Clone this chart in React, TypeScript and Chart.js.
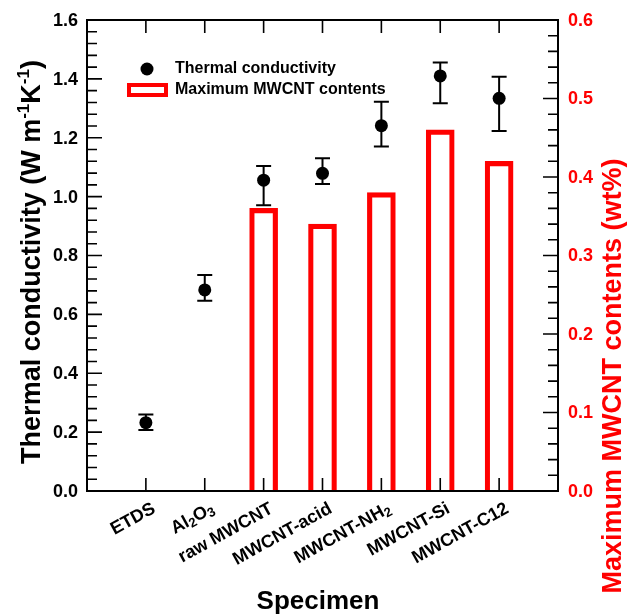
import React, { useEffect, useRef } from 'react';
import { Chart, registerables } from 'chart.js';

Chart.register(...registerables);

// ---------- data ----------
const categories = ['ETDS', 'Al₂O₃', 'raw MWCNT', 'MWCNT-acid', 'MWCNT-NH₂', 'MWCNT-Si', 'MWCNT-C12'];
const conductivity = [0.232, 0.683, 1.056, 1.079, 1.241, 1.41, 1.334];
const conductivityLow = [0.207, 0.646, 0.971, 1.043, 1.17, 1.317, 1.223];
const conductivityHigh = [0.26, 0.734, 1.104, 1.13, 1.322, 1.456, 1.407];
const mwcntContent: (number | null)[] = [null, null, 0.36, 0.34, 0.38, 0.46, 0.42];

const leftTitle = 'Thermal conductivity (W m⁻¹K⁻¹)';
const rightTitle = 'Maximum MWCNT contents (wt%)';
const bottomTitle = 'Specimen';
const legendLabels = ['Thermal conductivity', 'Maximum MWCNT contents'];

const FONT = '"Liberation Sans", Arial, Helvetica, sans-serif';
const RED = '#ff0000';

const SUB: Record<string, string> = { '₀': '0', '₁': '1', '₂': '2', '₃': '3', '₄': '4' };
const SUP: Record<string, string> = { '⁻': '-', '¹': '1' };

type Seg = { kind: 'n' | 'sub' | 'sup'; text: string; w: number };

function segments(text: string): Seg[] {
  const out: Seg[] = [];
  for (const ch of Array.from(text)) {
    let kind: Seg['kind'] = 'n';
    let c = ch;
    if (SUB[ch]) { kind = 'sub'; c = SUB[ch]; }
    else if (SUP[ch]) { kind = 'sup'; c = SUP[ch]; }
    const last = out[out.length - 1];
    if (last && last.kind === kind) last.text += c;
    else out.push({ kind, text: c, w: 0 });
  }
  return out;
}

function drawRich(ctx: CanvasRenderingContext2D, text: string, x: number, y: number, size: number,
  align: 'left' | 'center' | 'right', color: string) {
  const segs = segments(text);
  const subSize = Math.round(size * 0.72);
  const supSize = Math.round(size * 0.62);
  const fontFor = (k: Seg['kind']) => `bold ${k === 'n' ? size : k === 'sub' ? subSize : supSize}px ${FONT}`;
  let total = 0;
  for (const s of segs) { ctx.font = fontFor(s.kind); s.w = ctx.measureText(s.text).width; total += s.w; }
  let cx = align === 'left' ? x : align === 'center' ? x - total / 2 : x - total;
  ctx.fillStyle = color;
  ctx.textAlign = 'left';
  ctx.textBaseline = 'alphabetic';
  for (const s of segs) {
    ctx.font = fontFor(s.kind);
    const dy = s.kind === 'sub' ? size * 0.15 : s.kind === 'sup' ? -size * 0.4 : 0;
    ctx.fillText(s.text, cx, y + dy);
    cx += s.w;
  }
}

const errorBarPlugin = {
  id: 'errorBars',
  afterDatasetsDraw(chart: any) {
    const { ctx } = chart;
    const xs = chart.scales.x;
    const ys = chart.scales.y;
    ctx.save();
    ctx.strokeStyle = '#000';
    ctx.lineWidth = 2;
    conductivity.forEach((_v, i) => {
      const px = xs.getPixelForValue(i + 1);
      const top = ys.getPixelForValue(conductivityHigh[i]);
      const bot = ys.getPixelForValue(conductivityLow[i]);
      ctx.beginPath();
      ctx.moveTo(px, top); ctx.lineTo(px, bot);
      ctx.moveTo(px - 7.5, top); ctx.lineTo(px + 7.5, top);
      ctx.moveTo(px - 7.5, bot); ctx.lineTo(px + 7.5, bot);
      ctx.stroke();
    });
    ctx.restore();
  },
};

const axesPlugin = {
  id: 'axesFrame',
  afterDraw(chart: any) {
    const { ctx, chartArea } = chart;
    const { left, right, top, bottom } = chartArea;
    const xs = chart.scales.x;
    const ys = chart.scales.y;
    const ys2 = chart.scales.y2;
    ctx.save();
    // frame
    ctx.strokeStyle = '#000';
    ctx.lineWidth = 2;
    ctx.strokeRect(left, top, right - left, bottom - top);

    // left ticks (inward)
    ctx.lineWidth = 1.6;
    ctx.beginPath();
    for (let k = 0; k <= 40; k++) {
      const py = ys.getPixelForValue(k * 0.04);
      const len = k % 5 === 0 ? 15 : 10;
      ctx.moveTo(left, py); ctx.lineTo(left + len, py);
    }
    // right ticks (inward)
    for (let k = 0; k <= 30; k++) {
      const py = ys2.getPixelForValue(k * 0.02);
      const len = k % 5 === 0 ? 15 : 10;
      ctx.moveTo(right, py); ctx.lineTo(right - len, py);
    }
    // category ticks top & bottom
    categories.forEach((_c, i) => {
      const px = xs.getPixelForValue(i + 1);
      ctx.moveTo(px, bottom); ctx.lineTo(px, bottom - 13);
      ctx.moveTo(px, top); ctx.lineTo(px, top + 13);
    });
    ctx.stroke();

    // left tick labels
    ctx.font = `bold 18px ${FONT}`;
    ctx.textBaseline = 'middle';
    ctx.textAlign = 'right';
    ctx.fillStyle = '#000';
    ys.ticks.forEach((t: any) => {
      ctx.fillText(Number(t.value).toFixed(1), left - 9, ys.getPixelForValue(t.value) + 1);
    });
    // right tick labels
    ctx.textAlign = 'left';
    ctx.fillStyle = RED;
    ys2.ticks.forEach((t: any) => {
      ctx.fillText(Number(t.value).toFixed(1), right + 10, ys2.getPixelForValue(t.value) + 1);
    });

    // category labels (rotated)
    categories.forEach((c, i) => {
      const px = xs.getPixelForValue(i + 1);
      ctx.save();
      ctx.translate(px + 4, bottom + 9);
      ctx.rotate(-29 * Math.PI / 180);
      drawRich(ctx, c, 0, 13.5, 18, 'right', '#000');
      ctx.restore();
    });

    // axis titles
    ctx.save();
    ctx.translate(40, 262);
    ctx.rotate(-Math.PI / 2);
    drawRich(ctx, leftTitle, 0, 0, 27, 'center', '#000');
    ctx.restore();

    ctx.save();
    ctx.translate(621, 376);
    ctx.rotate(-Math.PI / 2);
    drawRich(ctx, rightTitle, 0, 0, 27, 'center', RED);
    ctx.restore();

    drawRich(ctx, bottomTitle, 318, 609, 26, 'center', '#000');

    // legend
    const lx = left + 60;
    ctx.fillStyle = '#000';
    ctx.beginPath();
    ctx.arc(lx, top + 49, 6.5, 0, Math.PI * 2);
    ctx.fill();
    ctx.strokeStyle = RED;
    ctx.lineWidth = 4;
    ctx.strokeRect(lx - 18, top + 65, 37, 10);
    ctx.font = `bold 16px ${FONT}`;
    ctx.textAlign = 'left';
    ctx.textBaseline = 'middle';
    ctx.fillStyle = '#000';
    ctx.fillText(legendLabels[0], lx + 28, top + 49);
    ctx.fillText(legendLabels[1], lx + 28, top + 70);

    ctx.restore();
  },
};

export default function App() {
  const canvasRef = useRef<HTMLCanvasElement | null>(null);

  useEffect(() => {
    document.body.style.margin = '0';
    const canvas = canvasRef.current;
    if (!canvas) return;
    const chart = new Chart(canvas, {
      type: 'bar',
      data: {
        datasets: [
          {
            type: 'scatter',
            label: legendLabels[0],
            data: conductivity.map((v, i) => ({ x: i + 1, y: v })),
            yAxisID: 'y',
            xAxisID: 'x',
            pointRadius: 6.5,
            pointBackgroundColor: '#000',
            pointBorderWidth: 0,
            order: 0,
          } as any,
          {
            type: 'bar',
            label: legendLabels[1],
            data: mwcntContent
              .map((v, i) => (v === null ? null : { x: i + 1, y: v }))
              .filter((d) => d !== null) as any,
            yAxisID: 'y2',
            xAxisID: 'x',
            backgroundColor: 'rgba(255,255,255,0)',
            borderColor: RED,
            borderWidth: 4.5,
            borderSkipped: 'bottom',
            barThickness: 28,
            order: 1,
          } as any,
        ],
      },
      options: {
        responsive: false,
        animation: false,
        layout: { padding: { left: 87, right: 73, top: 20, bottom: 124 } },
        plugins: { legend: { display: false }, tooltip: { enabled: false } },
        scales: {
          x: { type: 'linear', min: 0, max: 8, offset: false, display: false },
          y: { type: 'linear', min: 0, max: 1.6, display: false, ticks: { stepSize: 0.2 } },
          y2: { type: 'linear', min: 0, max: 0.6, display: false, position: 'right', ticks: { stepSize: 0.1 } },
        },
      } as any,
      plugins: [errorBarPlugin, axesPlugin],
    });
    return () => chart.destroy();
  }, []);

  return (
    <div style={{ position: 'fixed', left: 0, top: 0, width: 631, height: 615, background: '#fff' }}>
      <canvas ref={canvasRef} width={631} height={615} style={{ display: 'block' }} />
    </div>
  );
}
